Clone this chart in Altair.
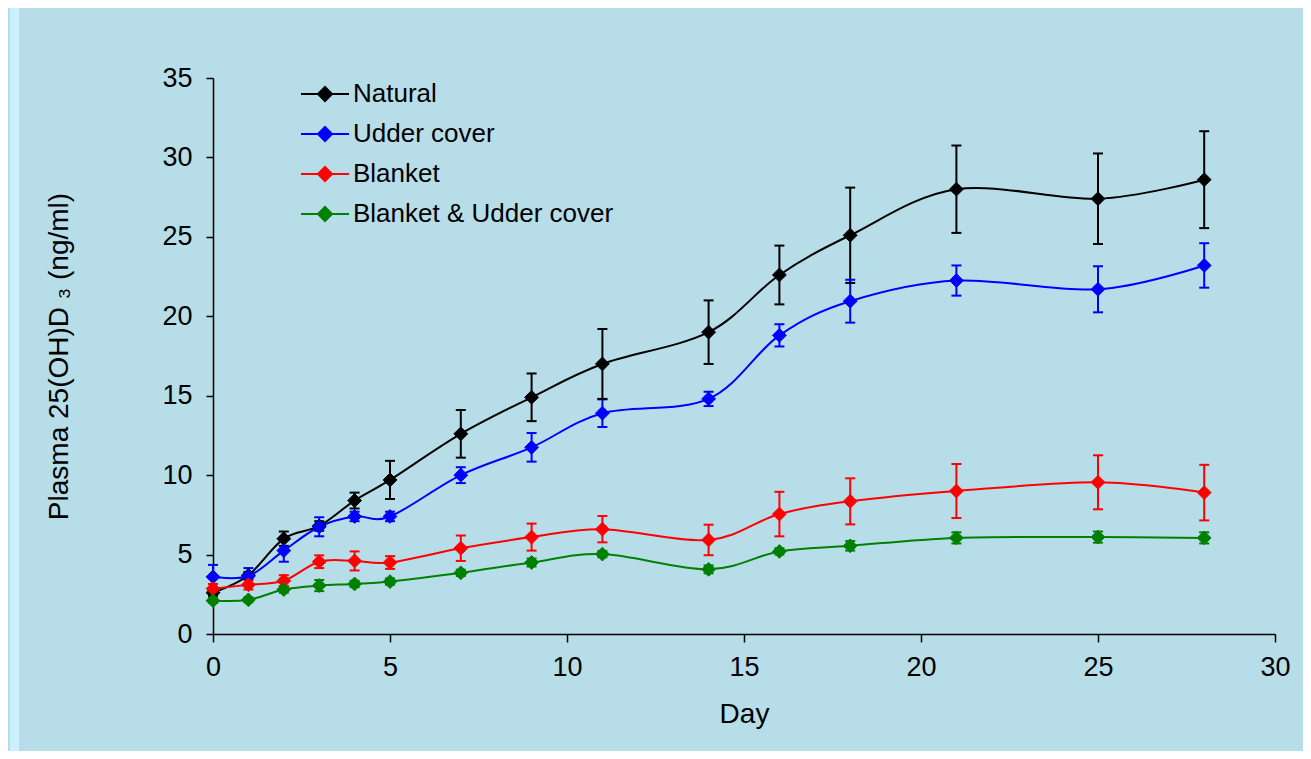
import altair as alt
import pandas as pd

days = [0, 1, 2, 3, 4, 5, 7, 9, 11, 14, 16, 18, 21, 25, 28]
groups = ["Natural", "Udder cover", "Blanket", "Blanket & Udder cover"]
colors = ["#000000", "#0000FF", "#FF0000", "#008000"]

natural_mean = [2.6, 3.7, 6.0, 6.8, 8.4, 9.7, 12.6, 14.9, 17.0, 19.0, 22.6, 25.1, 28.0, 27.4, 28.6]
natural_sem = [0.2, 0.2, 0.45, 0.3, 0.5, 1.2, 1.5, 1.5, 2.2, 2.0, 1.85, 3.0, 2.75, 2.85, 3.05]
udder_mean = [3.6, 3.65, 5.25, 6.75, 7.4, 7.4, 10.0, 11.75, 13.9, 14.8, 18.8, 20.95, 22.25, 21.7, 23.2]
udder_sem = [0.75, 0.5, 0.7, 0.6, 0.3, 0.3, 0.5, 0.9, 0.87, 0.45, 0.7, 1.35, 0.95, 1.45, 1.4]
blanket_mean = [2.85, 3.1, 3.35, 4.55, 4.6, 4.5, 5.4, 6.1, 6.6, 5.92, 7.55, 8.35, 9.0, 9.55, 8.9]
blanket_sem = [0.3, 0.3, 0.35, 0.4, 0.6, 0.4, 0.8, 0.85, 0.83, 0.96, 1.4, 1.45, 1.7, 1.7, 1.75]
both_mean = [2.1, 2.15, 2.8, 3.05, 3.15, 3.3, 3.85, 4.5, 5.03, 4.07, 5.2, 5.55, 6.05, 6.1, 6.05]
both_sem = [0.15, 0.15, 0.2, 0.35, 0.2, 0.2, 0.2, 0.25, 0.2, 0.25, 0.2, 0.3, 0.35, 0.35, 0.35]

x_ticks = [0, 5, 10, 15, 20, 25, 30]
y_ticks = [0, 5, 10, 15, 20, 25, 30, 35]

rows = []
for g, means, sems in zip(groups,
                          [natural_mean, udder_mean, blanket_mean, both_mean],
                          [natural_sem, udder_sem, blanket_sem, both_sem]):
    for d, m, s in zip(days, means, sems):
        rows.append({"day": d, "group": g, "mean": m, "lo": m - s, "hi": m + s})
df = pd.DataFrame(rows)

FONT = "Liberation Sans"

xscale = alt.Scale(domain=[0, 30], nice=False, zero=False)
yscale = alt.Scale(domain=[0, 35], nice=False)
cscale = alt.Scale(domain=groups, range=colors)

xaxis = alt.Axis(values=x_ticks, title="Day", grid=False, tickSize=8, labelPadding=12,
                 titleY=80, titleBaseline="middle", labelFlush=False)
yaxis = alt.Axis(values=y_ticks, title="Plasma 25(OH)D ₃  (ng/ml)", grid=False, tickSize=7,
                 labelPadding=14, titleX=-154, titleY=278, titleBaseline="middle")

X = alt.X("day:Q", scale=xscale, axis=xaxis)

legend = alt.Legend(
    title=None, orient="none", legendX=99, legendY=3,
    symbolType="M-2.4,0L2.4,0M0,-0.7L0.7,0L0,0.7L-0.7,0Z",
    symbolSize=400, symbolStrokeWidth=2, labelOffset=15, rowPadding=14,
    labelFont=FONT, labelFontSize=26, labelColor="#000000", labelLimit=500,
    padding=0, symbolOpacity=1,
)

def stroke_enc():
    return alt.Stroke("group:N", scale=cscale, legend=legend)

base = alt.Chart(df)

strip = alt.Chart(pd.DataFrame({"a": [0]})).mark_rect(color="#CCF0FF").encode(
    x=alt.value(-203), x2=alt.value(-194), y=alt.value(-70), y2=alt.value(680)
)

err = base.mark_rule(strokeWidth=2).encode(
    x=X,
    y=alt.Y("lo:Q", scale=yscale, axis=yaxis),
    y2="hi:Q",
    stroke=stroke_enc(),
)
cap_hi = base.mark_rule(strokeWidth=2, xOffset=-5, x2Offset=5).encode(
    x=X, x2="day:Q",
    y=alt.Y("hi:Q", scale=yscale, axis=yaxis),
    stroke=stroke_enc(),
)
cap_lo = base.mark_rule(strokeWidth=2, xOffset=-5, x2Offset=5).encode(
    x=X, x2="day:Q",
    y=alt.Y("lo:Q", scale=yscale, axis=yaxis),
    stroke=stroke_enc(),
)
line = base.mark_line(interpolate="cardinal", strokeWidth=2).encode(
    x=X,
    y=alt.Y("mean:Q", scale=yscale, axis=yaxis),
    stroke=stroke_enc(),
)
pts = base.mark_point(shape="diamond", filled=True, size=190, opacity=1, strokeWidth=1).encode(
    x=X,
    y=alt.Y("mean:Q", scale=yscale, axis=yaxis),
    fill=alt.Fill("group:N", scale=cscale, legend=legend),
    stroke=stroke_enc(),
)

chart = alt.layer(strip, err, cap_hi, cap_lo, line, pts).properties(
    width=1062, height=556,
    autosize=alt.AutoSizeParams(type="none"),
    padding={"left": 205, "top": 70, "right": 28, "bottom": 117},
    background="#B7DDE8",
).configure_view(stroke=None).configure_axis(
    domainColor="#000000", domainWidth=1.5, tickColor="#000000", tickWidth=1.5,
    labelFont=FONT, labelFontSize=27, labelColor="#000000",
    titleFont=FONT, titleFontSize=28, titleColor="#000000", titleFontWeight="normal",
)

chart.save("out.html", embed_options={"renderer": "svg", "actions": False})
